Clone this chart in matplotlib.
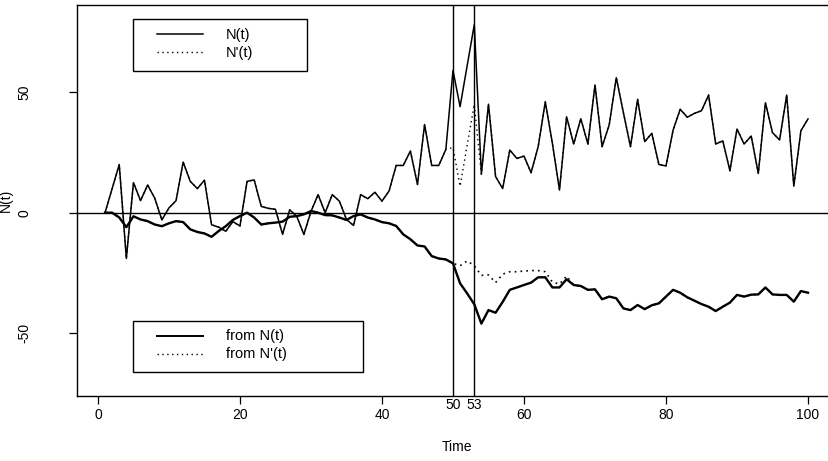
import numpy as np
import matplotlib
matplotlib.use("Agg")
import matplotlib.pyplot as plt
from matplotlib.lines import Line2D
from matplotlib.patches import Rectangle
from matplotlib.transforms import blended_transform_factory

plt.rcParams["font.family"] = ["Liberation Sans", "DejaVu Sans"]

# ---------------------------------------------------------------------------
# Data (t = 1..100)
# ---------------------------------------------------------------------------
t = np.arange(1, 101)

n_t = [0, 10, 20, -19, 12.5, 5, 11.5, 6, -3, 2,
       5, 21, 13, 10, 13.5, -5, -6, -7.7, -3.7, -5.5,
       13, 13.6, 2.6, 1.8, 1.4, -9, 1.2, -1.5, -9, 0.5,
       7.5, 0, 7.5, 4.8, -2.8, -5.3, 7.5, 5.8, 8.5, 4.8,
       9, 19.6, 19.6, 25.6, 11.7, 36.6, 19.6, 19.6, 26.3, 59,
       44, 61, 78, 16, 45, 15, 10, 26, 22.5, 23.5,
       16.6, 27.4, 46, 28.8, 9.4, 39.8, 28.5, 39, 28.5, 53,
       27.4, 36.4, 56, 41.5, 27.4, 47, 29.5, 32.9, 20, 19.4,
       34.3, 42.9, 39.6, 41.2, 42.3, 48.8, 28.5, 29.8, 17.4, 34.7,
       28.5, 31.8, 16.3, 45.6, 33.2, 30.2, 48.8, 11, 34, 38.9]

# N'(t) differs from N(t) only inside the 50..53 window
n_prime = list(n_t)
n_prime[49:53] = [27, 11, 28, 45]

from_n = [0, 0, -2, -6, -1.5, -2.8, -3.5, -4.9, -5.6, -4.4,
          -3.5, -3.9, -6.9, -8, -8.6, -10, -7.6, -5.6, -3, -1.4,
          0, -2, -4.9, -4.4, -4.1, -3.7, -1.7, -1.4, -0.7, 0.7,
          0, -1, -1.1, -2, -3, -1.4, -0.7, -2, -2.8, -3.9,
          -4.4, -5.5, -9, -11, -13.6, -14, -18, -19, -19.4, -21,
          -29.3, -33.5, -38, -46, -40.4, -41.5, -37, -32, -31, -30,
          -29, -26.8, -26.8, -31, -31, -27.6, -30, -30.4, -32, -31.8,
          -35.9, -34.8, -35.5, -39.7, -40.4, -38.3, -40, -38.4, -37.6, -34.8,
          -32, -33.2, -35.1, -36.5, -37.9, -39, -40.8, -39, -37.3, -34.1,
          -34.8, -34, -33.9, -31, -33.9, -34.1, -34.1, -36.9, -32.5, -33.2]

from_n_prime = list(from_n)
from_n_prime[50:66] = [-22, -20, -22, -26, -25.8, -29, -25.5, -24.5,
                       -24.5, -24.2, -24, -24, -24.5, -28.8, -29.6, -26.3]

breaks = [50, 53]
x_ticks = [0, 20, 40, 60, 80, 100]
y_ticks = [-50, 0, 50]

DOT = (0, (1, 2.5))
W, H = 829, 461

# ---------------------------------------------------------------------------
# Plot
# ---------------------------------------------------------------------------
fig = plt.figure(figsize=(W / 100, H / 100), dpi=100)
ax = fig.add_axes([0.0928, 0.1412, 0.9158, 0.8471])

ax.plot(t, n_prime, color="black", lw=1.0, linestyle=DOT)
ax.plot(t, n_t, color="black", lw=1.1)
ax.plot(t, from_n_prime, color="black", lw=1.2, linestyle=DOT)
ax.plot(t, from_n, color="black", lw=1.7)

ax.axhline(0, color="black", lw=1.0)
for b in breaks:
    ax.axvline(b, color="black", lw=1.0)

ax.set_xlim(-2.96, 103.96)
ax.set_ylim(-76, 86)

ax.set_xticks(x_ticks)
ax.set_yticks(y_ticks)
ax.set_yticklabels([str(v) for v in y_ticks], rotation=90, va="center")
ax.tick_params(axis="both", direction="out", length=6, width=0.9,
               labelsize=10, colors="black")
ax.tick_params(axis="x", pad=3)
ax.tick_params(axis="y", pad=27)
for sp in ax.spines.values():
    sp.set_color("black")
    sp.set_linewidth(1.0)

# the two break labels sit just under the axis
tr = blended_transform_factory(ax.transData, ax.transAxes)
for b in breaks:
    ax.text(b, -0.024, str(b), transform=tr, ha="center", va="center",
            fontsize=10)

ax.set_xlabel("Time", fontsize=10, labelpad=13)
ax.set_ylabel("N(t)", fontsize=10, labelpad=3)


# R-style legend boxes, placed in figure pixels
def fx(px):
    return px / W


def fy(py):
    return 1 - py / H


def legend_box(x0, y0, x1, y1, rows):
    fig.add_artist(Rectangle((fx(x0), fy(y1)), fx(x1) - fx(x0), fy(y0) - fy(y1),
                             transform=fig.transFigure, fill=True,
                             facecolor="white", edgecolor="black", lw=1.0))
    for ry, label, style, lw in rows:
        fig.add_artist(Line2D([fx(157), fx(203)], [fy(ry), fy(ry)],
                              transform=fig.transFigure, color="black",
                              lw=lw, linestyle=style))
        fig.text(fx(226), fy(ry), label, ha="left", va="center",
                 fontsize=10.5)


legend_box(133, 19, 307, 71,
           [(34.5, "N(t)", "-", 1.1), (52.5, "N'(t)", DOT, 1.0)])
legend_box(133, 321, 363, 372,
           [(336, "from N(t)", "-", 1.4), (353.5, "from N'(t)", DOT, 1.0)])

fig.savefig("out.png", dpi=100, facecolor="white")
